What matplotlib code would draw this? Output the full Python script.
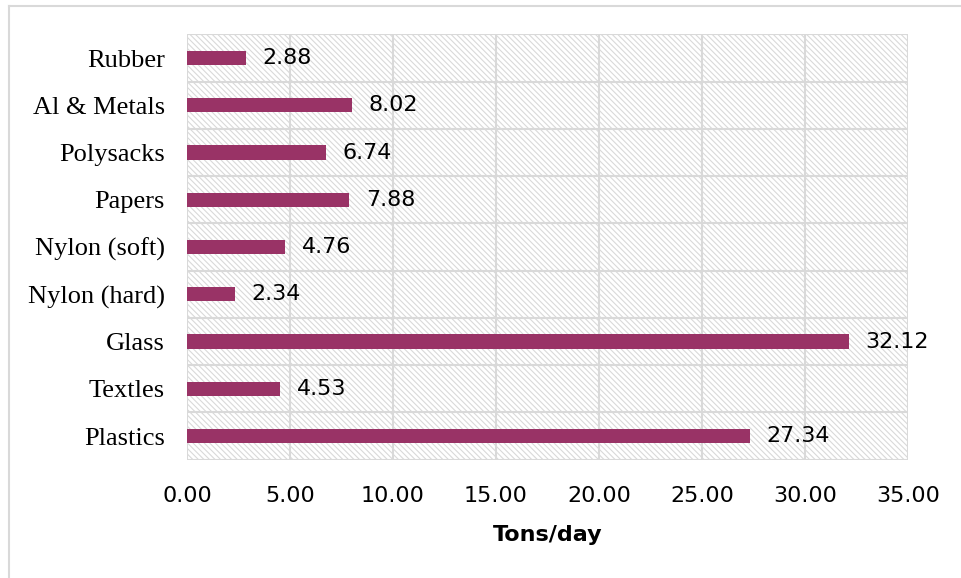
import matplotlib
matplotlib.use("Agg")
from matplotlib import pyplot as plt
from matplotlib.patches import Rectangle
from matplotlib.lines import Line2D
import numpy as np

# waste composition, tons per day
materials = ["Plastics", "Textles", "Glass", "Nylon (hard)", "Nylon (soft)",
             "Papers", "Polysacks", "Al & Metals", "Rubber"]
tons_per_day = [27.34, 4.53, 32.12, 2.34, 4.76, 7.88, 6.74, 8.02, 2.88]
x_ticks = [0, 5, 10, 15, 20, 25, 30, 35]

bar_color = "#993366"
grid_color = "#d9d9d9"
plt.rcParams["hatch.linewidth"] = 0.8

fig = plt.figure(figsize=(9.61, 5.78), dpi=100)
ax = fig.add_axes([0.1946, 0.2048, 0.7502, 0.7357])

y = np.arange(len(materials))
ax.barh(y, tons_per_day, height=0.3, color=bar_color, zorder=3)

# hatched plot area
ax.patch.set_visible(False)
bg = Rectangle((0, 0), 1, 1, transform=ax.transAxes, facecolor="white",
               edgecolor=grid_color, hatch="\\\\\\\\\\\\", linewidth=0, zorder=0)
ax.add_patch(bg)

ax.set_xlim(0, 35)
ax.set_ylim(-0.5, len(materials) - 0.5)
ax.set_xticks(x_ticks)
ax.set_xticklabels([f"{v:.2f}" for v in x_ticks], fontsize=16, family="DejaVu Sans")
ax.set_yticks(y)
ax.set_yticklabels(materials, fontsize=19, family="Liberation Serif")
ax.set_yticks(np.arange(len(materials) + 1) - 0.5, minor=True)
ax.tick_params(axis="x", length=0, pad=19)
ax.tick_params(axis="y", length=0, pad=16)
ax.tick_params(axis="y", which="minor", length=0)

ax.grid(axis="x", which="major", color=grid_color, linewidth=1.5, zorder=1)
ax.grid(axis="y", which="minor", color=grid_color, linewidth=1.5, zorder=1)
ax.grid(axis="y", which="major", visible=False)
for s in ax.spines.values():
    s.set_visible(False)

# value labels to the right of each bar
for yi, v in zip(y, tons_per_day):
    ax.text(v + 0.8, yi, f"{v:.2f}", va="center", ha="left",
            fontsize=16, family="DejaVu Sans", zorder=4)

ax.set_xlabel("Tons/day", fontsize=16, fontweight="bold", family="DejaVu Sans", labelpad=14)

# outer frame of the chart
fig.add_artist(Line2D([8.5 / 961, 8.5 / 961], [1 - 5.5 / 578, 0], color=grid_color, lw=1.5))
fig.add_artist(Line2D([8.5 / 961, 1], [1 - 5.5 / 578, 1 - 5.5 / 578], color=grid_color, lw=1.5))

fig.savefig("out.png", dpi=100)
